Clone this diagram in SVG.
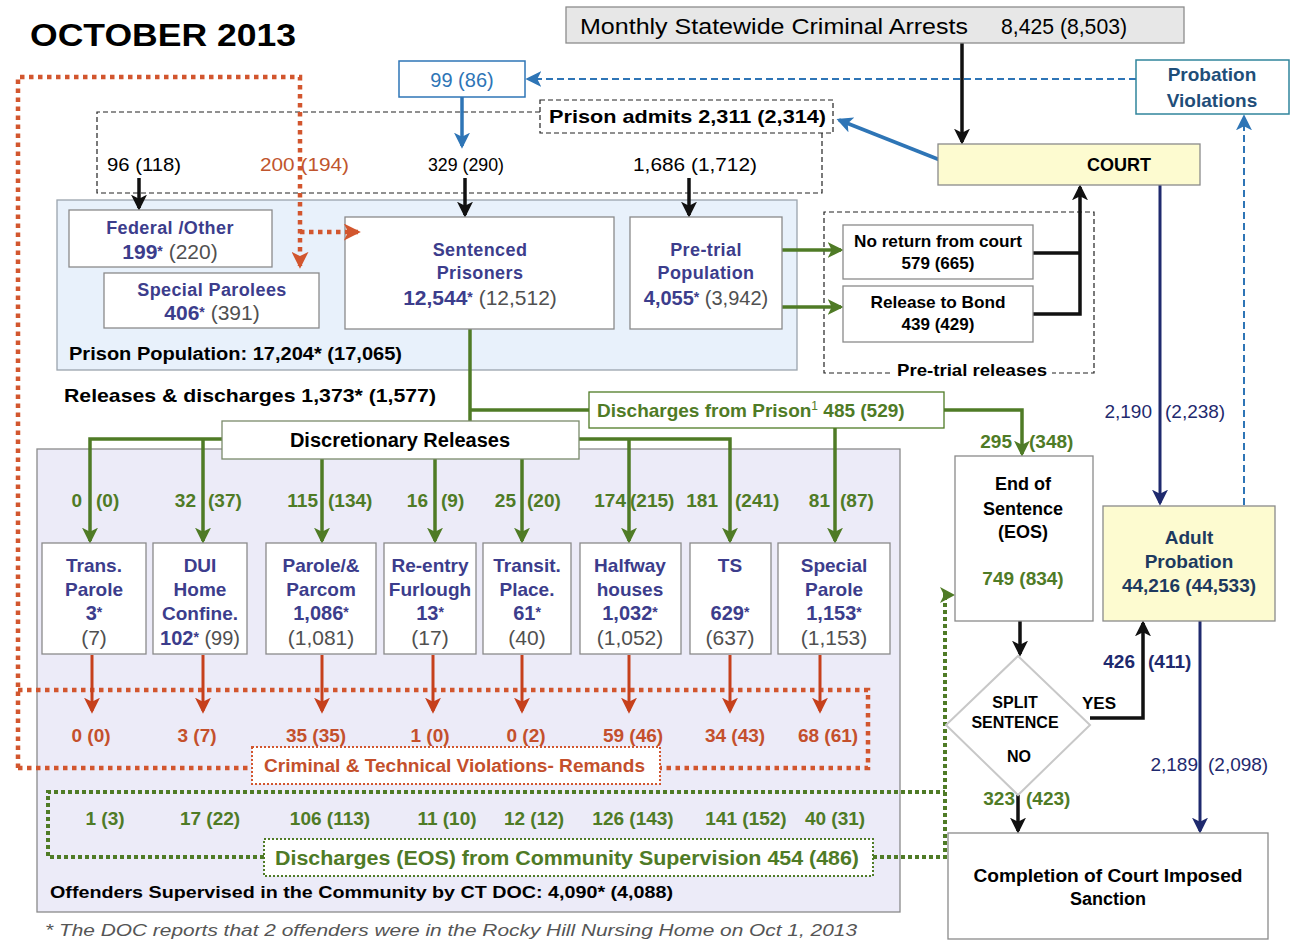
<svg xmlns="http://www.w3.org/2000/svg" width="1294" height="941" viewBox="0 0 1294 941" xml:space="preserve">
<style>
text{font-family:"Liberation Sans",Arial,sans-serif}
.b{font-weight:bold}
.c{text-anchor:middle}
.e{text-anchor:end}
.lb{fill:#3c3d8c;font-weight:bold}
.pr{fill:#505050;font-weight:normal}
.gt{fill:#4f7b26;font-weight:bold}
.rt{fill:#c4502c;font-weight:bold}
.nt{fill:#1f2a6e}
.box{fill:#fff;stroke:#8a8a8a;stroke-width:1.3}
.lg{stroke:#4f7b26;stroke-width:3.5;fill:none}
.lk{stroke:#111;stroke-width:3.5;fill:none}
.lr{stroke:#c6401c;stroke-width:3;fill:none}
.lb2{stroke:#2e75b6;stroke-width:3.5;fill:none}
.lbd{stroke:#2e75b6;stroke-width:2;stroke-dasharray:7 4;fill:none}
.ln{stroke:#1f2a6e;stroke-width:3;fill:none}
.lrd{stroke:#d2562e;stroke-width:4.5;stroke-dasharray:4.5 4.5;fill:none}
.lgd{stroke:#4f7b26;stroke-width:4;stroke-dasharray:4 3;fill:none}
.dash{fill:none;stroke:#222;stroke-width:1.2;stroke-dasharray:5 3}
</style>
<defs>
<marker id="ag" viewBox="0 0 12 12" refX="10" refY="6" markerWidth="16" markerHeight="16" markerUnits="userSpaceOnUse" orient="auto"><path d="M0,0 L12,6 L0,12 L3,6 z" fill="#4f7b26"/></marker>
<marker id="ak" viewBox="0 0 12 12" refX="10" refY="6" markerWidth="16" markerHeight="16" markerUnits="userSpaceOnUse" orient="auto"><path d="M0,0 L12,6 L0,12 L3,6 z" fill="#111"/></marker>
<marker id="ar" viewBox="0 0 12 12" refX="10" refY="6" markerWidth="16" markerHeight="16" markerUnits="userSpaceOnUse" orient="auto"><path d="M0,0 L12,6 L0,12 L3,6 z" fill="#c6401c"/></marker>
<marker id="ard" viewBox="0 0 12 12" refX="10" refY="6" markerWidth="17" markerHeight="17" markerUnits="userSpaceOnUse" orient="auto"><path d="M0,0 L12,6 L0,12 L3,6 z" fill="#d2562e"/></marker>
<marker id="ab" viewBox="0 0 12 12" refX="10" refY="6" markerWidth="16" markerHeight="16" markerUnits="userSpaceOnUse" orient="auto"><path d="M0,0 L12,6 L0,12 L3,6 z" fill="#2e75b6"/></marker>
<marker id="an" viewBox="0 0 12 12" refX="10" refY="6" markerWidth="16" markerHeight="16" markerUnits="userSpaceOnUse" orient="auto"><path d="M0,0 L12,6 L0,12 L3,6 z" fill="#1f2a6e"/></marker>
</defs>
<rect x="0" y="0" width="1294" height="941" fill="#fff"/>

<g id="containers">
<rect id="prison-population" x="57" y="200" width="740" height="170" fill="#e8f1fb" stroke="#9aa4ad" stroke-width="1.3"/>
<rect id="community" x="37" y="449" width="863" height="463" fill="#ecebf8" stroke="#8a8a8a" stroke-width="1.3"/>
<path id="admits-frame" class="dash" d="M540,112 L97,112 L97,193 L822,193 L822,132"/>
<path id="pretrial-frame" class="dash" d="M890,373 L824,373 L824,212 L1094,212 L1094,373 L1052,373"/>
</g>

<g id="connectors">
<path class="lrd" d="M18,768 L18,77 L300,77 L300,266" marker-end="url(#ard)"/>
<path class="lrd" d="M18,768 L252,768"/>
<path class="lrd" d="M18,690 L868,690 L868,768 L660,768"/>
<path class="lgd" d="M264,857 L48,857 L48,792 L945,792"/>
<path class="lgd" d="M873,857 L945,857 L945,595 L944,595"/>
<path class="lgd" d="M943,595 L947,595"/>
<polygon points="955,595 940,587 944,595 940,603" fill="#4f7b26"/>
<path class="lbd" d="M1136,79 L528,79" marker-end="url(#ab)"/>
<path class="lbd" d="M1244,505 L1244,117" marker-end="url(#ab)"/>
<path class="lb2" d="M462,97 L462,146" marker-end="url(#ab)"/>
<path class="lb2" d="M940,160 L839,120" marker-end="url(#ab)"/>
<path class="lk" d="M962,43 L962,142" marker-end="url(#ak)"/>
<path class="lk" d="M139,178 L139,208" marker-end="url(#ak)"/>
<path class="lk" d="M465,178 L465,215" marker-end="url(#ak)"/>
<path class="lk" d="M689,178 L689,215" marker-end="url(#ak)"/>
<path class="lk" d="M1033,253 L1080,253"/>
<path class="lk" d="M1033,314 L1080,314 L1080,187" marker-end="url(#ak)"/>
<path class="lk" d="M1020,621 L1020,654" marker-end="url(#ak)"/>
<path class="lk" d="M1018,795 L1018,831" marker-end="url(#ak)"/>
<path class="lk" d="M1090,718 L1143,718 L1143,623" marker-end="url(#ak)"/>
<path class="ln" d="M1160,185 L1160,503" marker-end="url(#an)"/>
<path class="ln" d="M1200,621 L1200,831" marker-end="url(#an)"/>
<path class="lg" d="M782,250 L841,250" marker-end="url(#ag)"/>
<path class="lg" d="M782,307 L841,307" marker-end="url(#ag)"/>
<path class="lg" d="M470,329 L470,421"/>
<path class="lg" d="M470,410 L589,410"/>
<path class="lg" d="M944,410 L1022,410 L1022,454" marker-end="url(#ag)"/>
<path class="lg" d="M835,428 L835,541" marker-end="url(#ag)"/>
<path class="lg" d="M222,439 L90,439 L90,541" marker-end="url(#ag)"/>
<path class="lg" d="M203,439 L203,541" marker-end="url(#ag)"/>
<path class="lg" d="M579,439 L730,439 L730,541" marker-end="url(#ag)"/>
<path class="lg" d="M629,439 L629,541" marker-end="url(#ag)"/>
<path class="lg" d="M322,459 L322,541" marker-end="url(#ag)"/>
<path class="lg" d="M435,459 L435,541" marker-end="url(#ag)"/>
<path class="lg" d="M522,459 L522,541" marker-end="url(#ag)"/>
<path class="lr" d="M92,655 L92,711" marker-end="url(#ar)"/>
<path class="lr" d="M203,655 L203,711" marker-end="url(#ar)"/>
<path class="lr" d="M322,655 L322,711" marker-end="url(#ar)"/>
<path class="lr" d="M433,655 L433,711" marker-end="url(#ar)"/>
<path class="lr" d="M522,655 L522,711" marker-end="url(#ar)"/>
<path class="lr" d="M629,655 L629,711" marker-end="url(#ar)"/>
<path class="lr" d="M730,655 L730,711" marker-end="url(#ar)"/>
<path class="lr" d="M820,655 L820,711" marker-end="url(#ar)"/>
</g>

<g id="title"><text class="b" x="30" y="46" font-size="32" textLength="266" lengthAdjust="spacingAndGlyphs">OCTOBER  2013</text></g>

<g id="arrests">
<rect x="566" y="7" width="618" height="36" fill="#e7e7e7" stroke="#8c8c8c" stroke-width="1.3"/>
<text x="580" y="34" font-size="22" textLength="388" lengthAdjust="spacingAndGlyphs">Monthly Statewide Criminal Arrests</text>
<text x="1001" y="34" font-size="22" textLength="126" lengthAdjust="spacingAndGlyphs">8,425 (8,503)</text>
</g>

<g id="returns-99">
<rect x="399" y="61" width="126" height="36" fill="#fff" stroke="#2e75b6" stroke-width="1.5"/>
<text class="c" x="462" y="87" font-size="20" fill="#2e75b6">99 (86)</text>
</g>

<g id="probation-violations">
<rect x="1136" y="60" width="153" height="54" fill="#fff" stroke="#31859c" stroke-width="1.5"/>
<text class="c b" x="1212" y="81" font-size="19" fill="#1f4e79">Probation</text>
<text class="c b" x="1212" y="107" font-size="19" fill="#1f4e79">Violations</text>
</g>

<g id="prison-admits">
<rect x="540" y="100" width="293" height="33" fill="#fff" stroke="#222" stroke-width="1.2" stroke-dasharray="5 3"/>
<text class="b" x="549" y="123" font-size="19" textLength="277" lengthAdjust="spacingAndGlyphs">Prison admits  2,311 (2,314)</text>
</g>

<g id="admit-labels">
<text x="107" y="171" font-size="19" textLength="74" lengthAdjust="spacingAndGlyphs">96 (118)</text>
<text x="260" y="171" font-size="19" fill="#c0552e" textLength="89" lengthAdjust="spacingAndGlyphs">200 (194)</text>
<text x="428" y="171" font-size="19" textLength="76" lengthAdjust="spacingAndGlyphs">329 (290)</text>
<text x="633" y="171" font-size="19" textLength="124" lengthAdjust="spacingAndGlyphs">1,686 (1,712)</text>
</g>

<g id="court">
<rect x="938" y="144" width="262" height="41" fill="#fdfbd0" stroke="#8a8a8a" stroke-width="1.3"/>
<text class="c b" x="1119" y="171" font-size="18">COURT</text>
</g>

<g id="federal">
<rect class="box" x="69" y="210" width="203" height="57"/>
<text class="c lb" x="170" y="234" font-size="18" letter-spacing="0.4">Federal /Other</text>
<text class="c" x="170" y="259"><tspan class="lb" font-size="21">199</tspan><tspan class="lb" font-size="14" dy="-3">*</tspan><tspan class="pr" font-size="21" dy="3"> (220)</tspan></text>
</g>

<g id="special-parolees">
<rect class="box" x="104" y="273" width="215" height="55"/>
<text class="c lb" x="212" y="296" font-size="18" letter-spacing="0.4">Special  Parolees</text>
<text class="c" x="212" y="320"><tspan class="lb" font-size="21">406</tspan><tspan class="lb" font-size="14" dy="-3">*</tspan><tspan class="pr" font-size="21" dy="3"> (391)</tspan></text>
</g>

<g id="sentenced">
<rect class="box" x="345" y="217" width="269" height="112"/>
<text class="c lb" x="480" y="256" font-size="18" letter-spacing="0.4">Sentenced</text>
<text class="c lb" x="480" y="279" font-size="18" letter-spacing="0.4">Prisoners</text>
<text class="c" x="480" y="305"><tspan class="lb" font-size="21">12,544</tspan><tspan class="lb" font-size="14" dy="-3">*</tspan><tspan class="pr" font-size="21" dy="3"> (12,512)</tspan></text>
</g>

<g id="pretrial">
<rect class="box" x="630" y="217" width="152" height="112"/>
<text class="c lb" x="706" y="256" font-size="18" letter-spacing="0.4">Pre-trial</text>
<text class="c lb" x="706" y="279" font-size="18" letter-spacing="0.4">Population</text>
<text class="c" x="706" y="305"><tspan class="lb" font-size="20">4,055</tspan><tspan class="lb" font-size="14" dy="-3">*</tspan><tspan class="pr" font-size="20" dy="3"> (3,942)</tspan></text>
</g>

<g id="connectors-over">
<path class="lrd" d="M300,232 L358,232" marker-end="url(#ard)"/>
</g>

<g id="population-label">
<text class="b" x="69" y="360" font-size="18" textLength="333" lengthAdjust="spacingAndGlyphs">Prison Population: 17,204* (17,065)</text>
</g>

<g id="no-return">
<rect class="box" x="843" y="225" width="190" height="54"/>
<text class="c b" x="938" y="247" font-size="17" textLength="168" lengthAdjust="spacingAndGlyphs">No return from court</text>
<text class="c b" x="938" y="269" font-size="17">579 (665)</text>
</g>

<g id="release-bond">
<rect class="box" x="843" y="286" width="190" height="56"/>
<text class="c b" x="938" y="308" font-size="17" textLength="135" lengthAdjust="spacingAndGlyphs">Release to Bond</text>
<text class="c b" x="938" y="330" font-size="17">439 (429)</text>
</g>

<g id="pretrial-releases-label">
<text class="b" x="897" y="376" font-size="17" textLength="150" lengthAdjust="spacingAndGlyphs">Pre-trial releases</text>
</g>

<g id="releases-label">
<text class="b" x="64" y="402" font-size="19" textLength="372" lengthAdjust="spacingAndGlyphs">Releases &amp; discharges 1,373* (1,577)</text>
</g>

<g id="discharges-prison">
<rect x="589" y="392" width="355" height="36" fill="#fff" stroke="#4f7b26" stroke-width="1.3"/>
<text class="gt" x="597" y="417" font-size="19">Discharges from Prison<tspan font-size="12" dy="-7" font-weight="normal">1</tspan><tspan dy="7">  485 (529)</tspan></text>
</g>

<g id="discretionary">
<rect x="222" y="421" width="357" height="38" fill="#fff" stroke="#7a8a6a" stroke-width="1.3"/>
<text class="c b" x="400" y="447" font-size="20">Discretionary Releases</text>
</g>

<g id="release-counts">
<text class="gt e" x="82" y="507" font-size="19">0</text><text class="gt" x="96" y="507" font-size="19">(0)</text>
<text class="gt e" x="196" y="507" font-size="19">32</text><text class="gt" x="208" y="507" font-size="19">(37)</text>
<text class="gt e" x="318" y="507" font-size="19">115</text><text class="gt" x="328" y="507" font-size="19">(134)</text>
<text class="gt e" x="428" y="507" font-size="19">16</text><text class="gt" x="441" y="507" font-size="19">(9)</text>
<text class="gt e" x="516" y="507" font-size="19">25</text><text class="gt" x="527" y="507" font-size="19">(20)</text>
<text class="gt e" x="626" y="507" font-size="19">174</text><text class="gt" x="630" y="507" font-size="19">(215)</text>
<text class="gt e" x="718" y="507" font-size="19">181</text><text class="gt" x="735" y="507" font-size="19">(241)</text>
<text class="gt e" x="830" y="507" font-size="19">81</text><text class="gt" x="840" y="507" font-size="19">(87)</text>
</g>

<g id="trans-parole">
<rect class="box" x="42" y="543" width="104" height="111"/>
<text class="c lb" x="94" y="572" font-size="19">Trans.</text>
<text class="c lb" x="94" y="596" font-size="19">Parole</text>
<text class="c lb" x="94" y="620" font-size="20">3<tspan font-size="14" dy="-3">*</tspan></text>
<text class="c pr" x="94" y="645" font-size="21">(7)</text>
</g>
<g id="dui">
<rect class="box" x="153" y="543" width="94" height="111"/>
<text class="c lb" x="200" y="572" font-size="19">DUI</text>
<text class="c lb" x="200" y="596" font-size="19">Home</text>
<text class="c lb" x="200" y="620" font-size="19">Confine.</text>
<text class="c" x="200" y="645"><tspan class="lb" font-size="20">102</tspan><tspan class="lb" font-size="14" dy="-3">*</tspan><tspan class="pr" font-size="20" dy="3"> (99)</tspan></text>
</g>
<g id="parole">
<rect class="box" x="266" y="543" width="110" height="111"/>
<text class="c lb" x="321" y="572" font-size="19">Parole/&amp;</text>
<text class="c lb" x="321" y="596" font-size="19">Parcom</text>
<text class="c lb" x="321" y="620" font-size="20">1,086<tspan font-size="14" dy="-3">*</tspan></text>
<text class="c pr" x="321" y="645" font-size="21">(1,081)</text>
</g>
<g id="reentry">
<rect class="box" x="384" y="543" width="92" height="111"/>
<text class="c lb" x="430" y="572" font-size="19">Re-entry</text>
<text class="c lb" x="430" y="596" font-size="19">Furlough</text>
<text class="c lb" x="430" y="620" font-size="20">13<tspan font-size="14" dy="-3">*</tspan></text>
<text class="c pr" x="430" y="645" font-size="21">(17)</text>
</g>
<g id="transit">
<rect class="box" x="483" y="543" width="88" height="111"/>
<text class="c lb" x="527" y="572" font-size="19">Transit.</text>
<text class="c lb" x="527" y="596" font-size="19">Place.</text>
<text class="c lb" x="527" y="620" font-size="20">61<tspan font-size="14" dy="-3">*</tspan></text>
<text class="c pr" x="527" y="645" font-size="21">(40)</text>
</g>
<g id="halfway">
<rect class="box" x="580" y="543" width="101" height="111"/>
<text class="c lb" x="630" y="572" font-size="19">Halfway</text>
<text class="c lb" x="630" y="596" font-size="19">houses</text>
<text class="c lb" x="630" y="620" font-size="20">1,032<tspan font-size="14" dy="-3">*</tspan></text>
<text class="c pr" x="630" y="645" font-size="21">(1,052)</text>
</g>
<g id="ts">
<rect class="box" x="690" y="543" width="81" height="111"/>
<text class="c lb" x="730" y="572" font-size="19">TS</text>
<text class="c lb" x="730" y="620" font-size="20">629<tspan font-size="14" dy="-3">*</tspan></text>
<text class="c pr" x="730" y="645" font-size="21">(637)</text>
</g>
<g id="special-parole">
<rect class="box" x="778" y="543" width="112" height="111"/>
<text class="c lb" x="834" y="572" font-size="19">Special</text>
<text class="c lb" x="834" y="596" font-size="19">Parole</text>
<text class="c lb" x="834" y="620" font-size="20">1,153<tspan font-size="14" dy="-3">*</tspan></text>
<text class="c pr" x="834" y="645" font-size="21">(1,153)</text>
</g>

<g id="remand-counts">
<text class="rt c" x="91" y="742" font-size="19">0 (0)</text>
<text class="rt c" x="197" y="742" font-size="19">3 (7)</text>
<text class="rt c" x="316" y="742" font-size="19">35  (35)</text>
<text class="rt c" x="430" y="742" font-size="19">1  (0)</text>
<text class="rt c" x="526" y="742" font-size="19">0 (2)</text>
<text class="rt c" x="633" y="742" font-size="19">59 (46)</text>
<text class="rt c" x="735" y="742" font-size="19">34 (43)</text>
<text class="rt c" x="828" y="742" font-size="19">68 (61)</text>
</g>

<g id="remands-label">
<rect x="252" y="747" width="408" height="37" fill="#fff" stroke="#d2562e" stroke-width="2" stroke-dasharray="2 2"/>
<text class="rt" x="264" y="772" font-size="18" textLength="381" lengthAdjust="spacingAndGlyphs">Criminal &amp; Technical Violations- Remands</text>
</g>

<g id="eos-discharge-counts">
<text class="gt c" x="105" y="825" font-size="19">1 (3)</text>
<text class="gt c" x="210" y="825" font-size="19">17 (22)</text>
<text class="gt c" x="330" y="825" font-size="19">106 (113)</text>
<text class="gt c" x="447" y="825" font-size="19">11 (10)</text>
<text class="gt c" x="534" y="825" font-size="19">12 (12)</text>
<text class="gt c" x="633" y="825" font-size="19">126 (143)</text>
<text class="gt c" x="746" y="825" font-size="19">141 (152)</text>
<text class="gt c" x="835" y="825" font-size="19">40 (31)</text>
</g>

<g id="eos-discharges-label">
<rect x="264" y="839" width="609" height="37" fill="#fff" stroke="#4f7b26" stroke-width="2" stroke-dasharray="2 2"/>
<text class="gt" x="275" y="865" font-size="20" textLength="584" lengthAdjust="spacingAndGlyphs">Discharges (EOS) from Community Supervision  454 (486)</text>
</g>

<g id="community-label">
<text class="b" x="50" y="898" font-size="17" textLength="623" lengthAdjust="spacingAndGlyphs">Offenders  Supervised  in the Community by CT DOC:  4,090* (4,088)</text>
</g>

<g id="eos">
<rect class="box" x="955" y="456" width="138" height="165"/>
<text class="c b" x="1023" y="490" font-size="18">End of</text>
<text class="c b" x="1023" y="515" font-size="18">Sentence</text>
<text class="c b" x="1023" y="538" font-size="18">(EOS)</text>
<text class="c gt" x="1023" y="585" font-size="19">749 (834)</text>
</g>

<g id="split">
<polygon points="1018,656 1090,725 1018,795 946,725" fill="#fff" stroke="#c8c8c8" stroke-width="2"/>
<text class="c b" x="1015" y="708" font-size="16">SPLIT</text>
<text class="c b" x="1015" y="728" font-size="16">SENTENCE</text>
<text class="c b" x="1019" y="762" font-size="16">NO</text>
</g>

<g id="flow-labels">
<text class="b" x="1082" y="709" font-size="17">YES</text>
<text class="gt e" x="1012" y="448" font-size="19">295</text><text class="gt" x="1029" y="448" font-size="19">(348)</text>
<text class="nt e" x="1152" y="418" font-size="19">2,190</text><text class="nt" x="1165" y="418" font-size="19">(2,238)</text>
<text class="nt b e" x="1135" y="668" font-size="19">426</text><text class="nt b" x="1148" y="668" font-size="19">(411)</text>
<text class="gt e" x="1015" y="805" font-size="19">323</text><text class="gt" x="1026" y="805" font-size="19">(423)</text>
<text class="nt e" x="1198" y="771" font-size="19">2,189</text><text class="nt" x="1208" y="771" font-size="19">(2,098)</text>
</g>

<g id="adult-probation">
<rect x="1103" y="506" width="172" height="115" fill="#fdfbd0" stroke="#8a8a8a" stroke-width="1.3"/>
<text class="c b" x="1189" y="544" font-size="19" fill="#1e3a5f">Adult</text>
<text class="c b" x="1189" y="568" font-size="19" fill="#1e3a5f">Probation</text>
<text class="c b" x="1189" y="592" font-size="19" fill="#1e3a5f">44,216 (44,533)</text>
</g>

<g id="completion">
<rect class="box" x="948" y="833" width="320" height="106"/>
<text class="c b" x="1108" y="882" font-size="18" textLength="269" lengthAdjust="spacingAndGlyphs">Completion of Court Imposed</text>
<text class="c b" x="1108" y="905" font-size="18">Sanction</text>
</g>

<g id="footnote">
<text x="45" y="936" font-size="17" font-style="italic" fill="#555" textLength="812" lengthAdjust="spacingAndGlyphs">* The DOC reports that 2 offenders were in the Rocky Hill Nursing Home on Oct 1, 2013</text>
</g>
</svg>
